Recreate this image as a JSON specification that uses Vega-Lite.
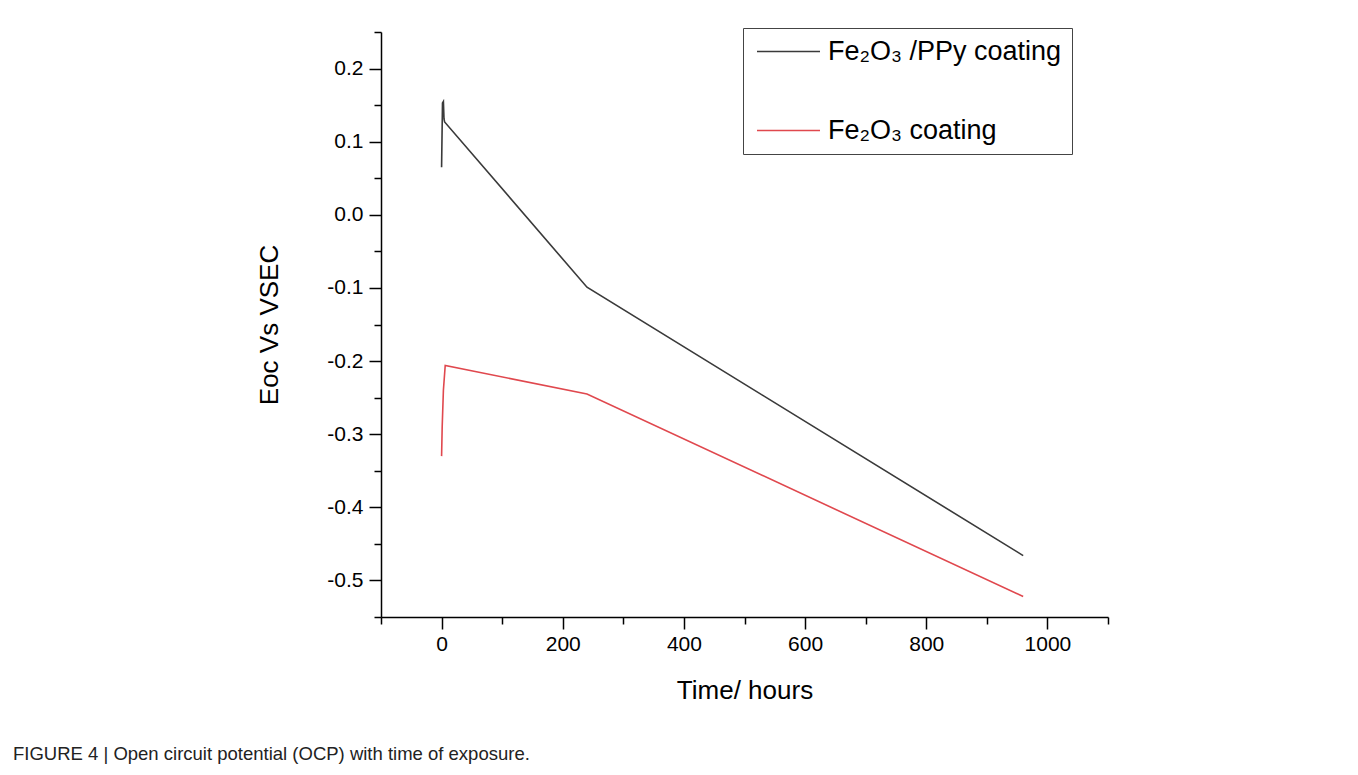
{
  "$schema": "https://vega.github.io/schema/vega-lite/v6.json",
  "width": 727,
  "height": 585,
  "autosize": "none",
  "padding": {"left": 381, "top": 32, "right": 250, "bottom": 158},
  "background": "white",
  "config": {"view": {"stroke": null}, "font": "Liberation Sans"},
  "title": {
    "text": "FIGURE 4 | Open circuit potential (OCP) with time of exposure.",
    "orient": "bottom",
    "anchor": "start",
    "frame": "group",
    "dx": -368,
    "offset": 42,
    "fontSize": 18.5,
    "fontWeight": "normal",
    "color": "#222222",
    "font": "Liberation Sans"
  },
  "data": {
    "values": [
      {"time": 0, "eoc": 0.065, "series": "Fe₂O₃ /PPy coating"},
      {"time": 1.5, "eoc": 0.153, "series": "Fe₂O₃ /PPy coating"},
      {"time": 3, "eoc": 0.155, "series": "Fe₂O₃ /PPy coating"},
      {"time": 4, "eoc": 0.131, "series": "Fe₂O₃ /PPy coating"},
      {"time": 5, "eoc": 0.127, "series": "Fe₂O₃ /PPy coating"},
      {"time": 240, "eoc": -0.099, "series": "Fe₂O₃ /PPy coating"},
      {"time": 960, "eoc": -0.466, "series": "Fe₂O₃ /PPy coating"},
      {"time": 0, "eoc": -0.33, "series": "Fe₂O₃ coating"},
      {"time": 1, "eoc": -0.29, "series": "Fe₂O₃ coating"},
      {"time": 3, "eoc": -0.24, "series": "Fe₂O₃ coating"},
      {"time": 6, "eoc": -0.206, "series": "Fe₂O₃ coating"},
      {"time": 240, "eoc": -0.245, "series": "Fe₂O₃ coating"},
      {"time": 960, "eoc": -0.522, "series": "Fe₂O₃ coating"}
    ]
  },
  "mark": {"type": "line", "strokeWidth": 1.6},
  "encoding": {
    "x": {
      "field": "time",
      "type": "quantitative",
      "scale": {"domain": [-100, 1100], "nice": false, "zero": false},
      "axis": {
        "title": "Time/ hours",
        "values": [-100, 0, 100, 200, 300, 400, 500, 600, 700, 800, 900, 1000, 1100],
        "format": "d",
        "labelExpr": "datum.value % 200 == 0 ? datum.label : ''",
        "tickSize": {"condition": {"test": "datum.value % 200 == 0", "value": 12}, "value": 7},
        "grid": false,
        "domainColor": "#000000",
        "domainWidth": 1.5,
        "tickColor": "#000000",
        "tickWidth": 1.5,
        "labelFontSize": 21,
        "labelColor": "#000000",
        "labelPadding": 4,
        "labelFlush": false,
        "labelOverlap": false,
        "titleFontSize": 26,
        "titleFontWeight": "normal",
        "titleColor": "#000000",
        "titlePadding": 23
      }
    },
    "y": {
      "field": "eoc",
      "type": "quantitative",
      "scale": {"domain": [-0.55, 0.25], "nice": false, "zero": false},
      "axis": {
        "title": "Eoc Vs VSEC",
        "values": [0.25, 0.2, 0.15, 0.1, 0.05, 0, -0.05, -0.1, -0.15, -0.2, -0.25, -0.3, -0.35, -0.4, -0.45, -0.5, -0.55],
        "labelExpr": "round(datum.value*100) % 10 == 0 ? replace(format(datum.value, '.1f'), '−', '-') : ''",
        "tickSize": {"condition": {"test": "round(datum.value*100) % 10 == 0", "value": 12}, "value": 7},
        "grid": false,
        "domainColor": "#000000",
        "domainWidth": 1.5,
        "tickColor": "#000000",
        "tickWidth": 1.5,
        "labelFontSize": 21,
        "labelColor": "#000000",
        "labelPadding": 6,
        "labelFlush": false,
        "labelOverlap": false,
        "titleFontSize": 26,
        "titleFontWeight": "normal",
        "titleColor": "#000000",
        "titlePadding": 44
      }
    },
    "color": {
      "field": "series",
      "type": "nominal",
      "scale": {"domain": ["Fe₂O₃ /PPy coating", "Fe₂O₃ coating"], "range": ["#3a3a3a", "#e0484e"]},
      "legend": {
        "title": null,
        "orient": "none",
        "legendX": 362,
        "legendY": -4,
        "direction": "vertical",
        "symbolType": "M-1,0H5",
        "symbolSize": 441,
        "symbolStrokeWidth": 1.5,
        "symbolOffset": 1,
        "labelFontSize": 27,
        "labelColor": "#000000",
        "labelOffset": 47,
        "labelLimit": 500,
        "rowPadding": 51,
        "padding": 10,
        "strokeColor": "#444444",
        "fillColor": "white"
      }
    }
  }
}
